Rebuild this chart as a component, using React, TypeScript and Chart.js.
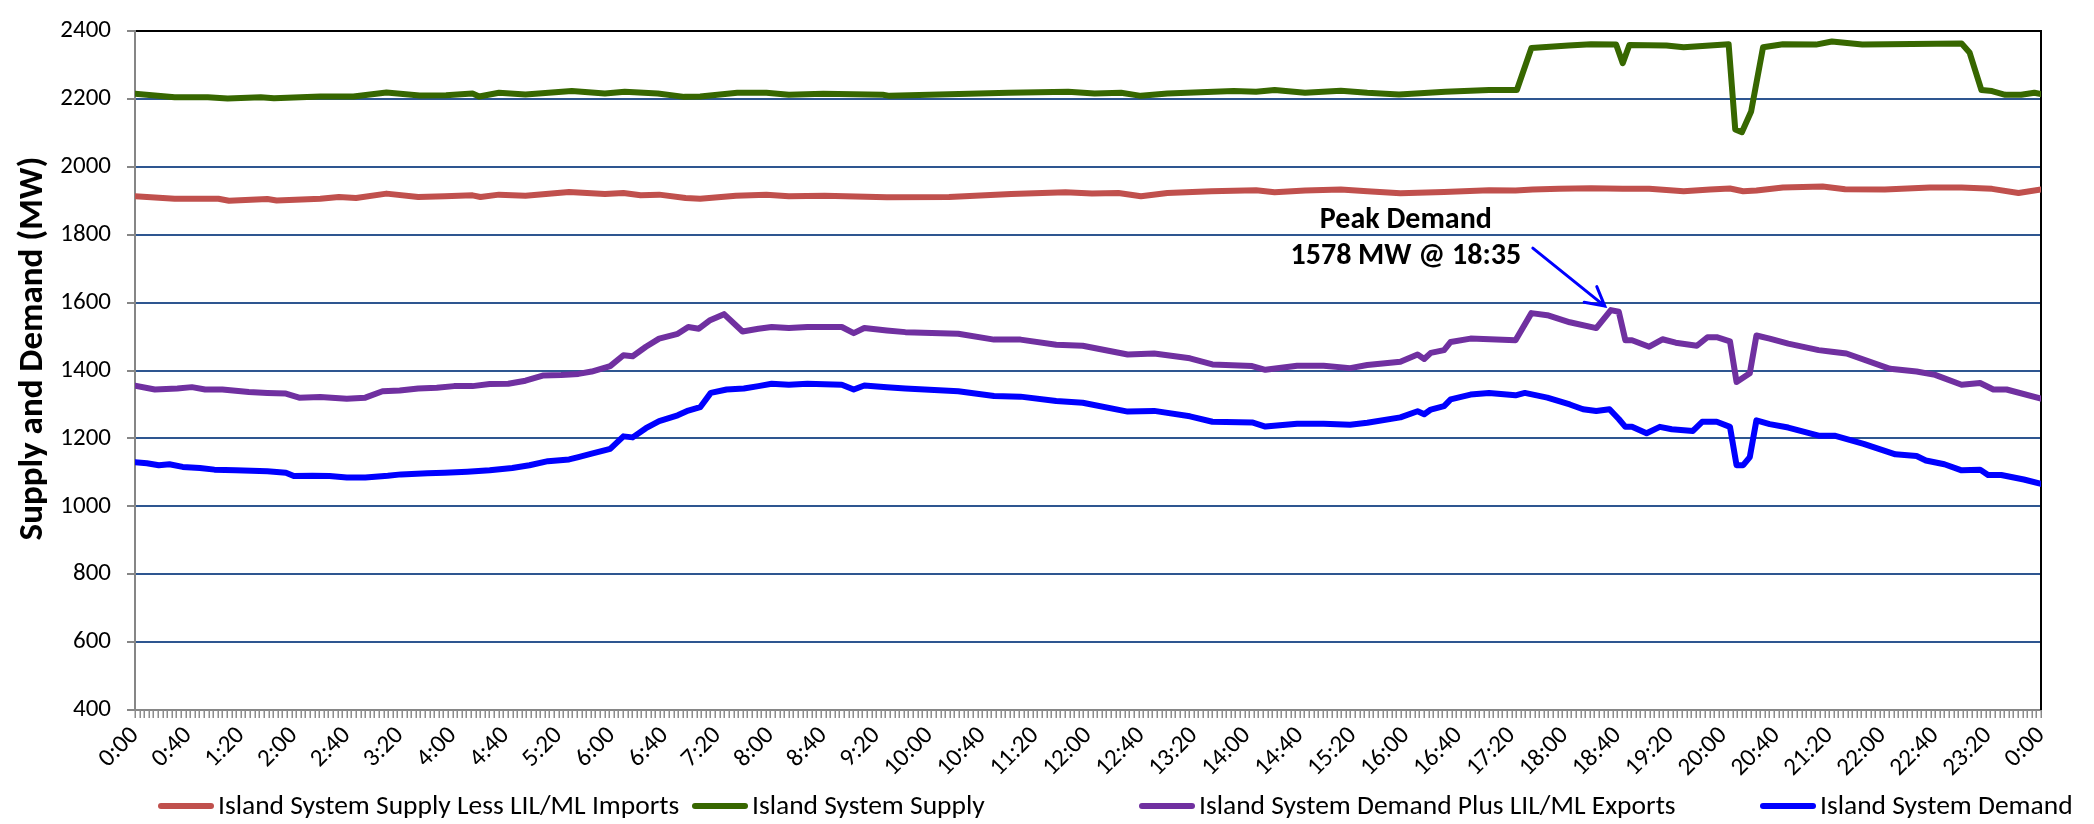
import React, { useEffect, useRef } from 'react';
import { Chart, registerables } from 'chart.js';

Chart.register(...registerables);

const FONT = 'Carlito, Calibri, Lato, sans-serif';

// x positions in minutes after midnight
const X_LABEL_MINUTES = [
  0, 40, 80, 120, 160, 200, 240, 280, 320, 360, 400, 440, 480, 520, 560, 600, 640, 680, 720,
  760, 800, 840, 880, 920, 960, 1000, 1040, 1080, 1120, 1160, 1200, 1240, 1280, 1320, 1360, 1400, 1440,
];

const RED_T = [0,30,63,71,100,107,140,154,167,190,214,234,255,261,275,295,328,355,369,382,396,416,427,454,477,494,521,568,615,662,703,723,743,760,780,813,847,861,884,911,931,956,989,1023,1043,1056,1076,1100,1124,1144,1170,1190,1205,1215,1225,1245,1275,1292,1322,1356,1380,1403,1423,1440];
const RED_V = [1913,1906,1906,1900,1905,1901,1906,1911,1908,1921,1911,1913,1916,1911,1918,1915,1926,1920,1923,1916,1918,1908,1906,1915,1918,1913,1915,1910,1911,1920,1925,1921,1923,1913,1923,1928,1931,1925,1930,1933,1928,1922,1926,1931,1930,1933,1935,1937,1935,1935,1928,1933,1936,1928,1930,1939,1942,1934,1933,1939,1939,1935,1923,1933];

const GREEN_T = [0,15,30,55,70,95,105,140,165,190,215,235,255,260,275,295,330,355,370,395,415,427,455,477,494,520,565,570,615,660,705,725,745,760,780,830,847,861,884,911,931,955,990,1023,1044,1055,1083,1100,1119,1124,1129,1157,1170,1204,1209,1214,1221,1230,1245,1270,1282,1305,1380,1386,1395,1403,1413,1425,1435,1440];
const GREEN_V = [2215,2210,2205,2205,2201,2205,2202,2207,2207,2219,2210,2211,2216,2207,2218,2213,2223,2216,2221,2216,2206,2207,2218,2218,2212,2215,2212,2209,2214,2218,2221,2216,2218,2209,2216,2223,2221,2226,2218,2224,2218,2213,2221,2226,2226,2350,2357,2361,2360,2305,2359,2357,2352,2361,2110,2102,2163,2352,2361,2360,2369,2360,2363,2337,2226,2223,2212,2212,2218,2214];

const PURPLE_T = [0,15,32,43,53,66,86,100,114,124,140,160,174,187,200,214,228,241,255,268,282,295,308,322,335,345,359,369,376,386,396,410,418,426,434,445,459,471,481,494,508,534,543,551,568,582,622,649,669,696,716,750,770,797,814,844,854,878,898,918,931,956,969,974,979,989,994,1009,1043,1055,1067,1084,1104,1115,1121,1126,1131,1144,1154,1164,1180,1188,1195,1205,1210,1220,1225,1235,1249,1272,1282,1293,1326,1346,1360,1380,1394,1404,1414,1440];
const PURPLE_V = [1355,1344,1347,1351,1344,1344,1337,1334,1332,1320,1322,1317,1320,1339,1341,1347,1349,1354,1354,1360,1361,1370,1385,1387,1390,1397,1413,1445,1442,1470,1494,1508,1528,1523,1547,1566,1515,1523,1528,1525,1528,1528,1510,1525,1518,1513,1508,1491,1491,1476,1473,1447,1450,1436,1418,1413,1402,1414,1414,1407,1416,1426,1447,1434,1452,1460,1484,1494,1489,1569,1563,1542,1525,1578,1573,1489,1489,1470,1492,1482,1473,1498,1498,1486,1366,1392,1503,1494,1479,1460,1455,1450,1405,1397,1387,1358,1363,1344,1344,1317];

const BLUE_T = [0,9,18,26,36,49,60,76,100,114,120,134,147,160,174,191,201,221,234,251,268,285,298,312,328,335,345,359,369,376,386,396,410,418,427,435,447,460,471,481,494,508,534,543,551,568,582,622,649,669,696,716,750,770,797,814,844,854,878,898,918,931,956,969,974,979,989,994,1009,1023,1043,1050,1067,1084,1094,1104,1114,1121,1126,1131,1142,1152,1161,1177,1184,1195,1205,1210,1215,1220,1225,1235,1249,1272,1284,1306,1330,1346,1353,1367,1380,1394,1400,1410,1427,1440];
const BLUE_V = [1130,1127,1121,1124,1116,1113,1108,1106,1103,1099,1089,1090,1089,1085,1085,1090,1094,1097,1099,1102,1106,1113,1121,1133,1138,1145,1155,1169,1206,1203,1230,1251,1268,1282,1292,1334,1344,1347,1354,1361,1358,1361,1358,1344,1356,1351,1347,1339,1325,1323,1310,1305,1279,1281,1265,1249,1247,1235,1243,1243,1240,1246,1262,1280,1271,1285,1295,1315,1329,1334,1327,1334,1320,1300,1286,1281,1286,1257,1234,1234,1215,1234,1227,1222,1249,1249,1234,1121,1121,1145,1253,1242,1232,1208,1208,1184,1153,1148,1135,1124,1106,1108,1092,1092,1079,1066];

const SERIES_LABELS = [
  'Island System Supply Less LIL/ML Imports',
  'Island System Supply',
  'Island System Demand Plus LIL/ML Exports',
  'Island System Demand',
];
const SERIES_COLORS = ['#C0504D', '#376700', '#7030A0', '#0000FF'];

const PEAK_MINUTE = 1115;
const PEAK_VALUE = 1578;
const PEAK_TITLE = 'Peak Demand';
const PEAK_TEXT = '1578 MW @ 18:35';

const Y_TITLE = 'Supply and Demand (MW)';

function fmtMinutes(m: number): string {
  const mm = ((Math.round(m) % 1440) + 1440) % 1440;
  const h = Math.floor(mm / 60);
  const mi = mm % 60;
  return `${h}:${mi.toString().padStart(2, '0')}`;
}

function pts(t: number[], v: number[]) {
  return t.map((x, i) => ({ x, y: v[i] }));
}

const MINOR_TICK_COUNT = 414;
const LEGEND_X = [158, 692, 1139, 1760];

const decorPlugin = {
  id: 'decor',
  beforeDatasetsDraw(chart: any) {
    const { ctx, chartArea: a } = chart;
    ctx.save();
    ctx.strokeStyle = '#000';
    ctx.lineWidth = 2;
    ctx.beginPath();
    ctx.moveTo(a.right, a.top - 1);
    ctx.lineTo(a.right, a.bottom);
    ctx.stroke();
    ctx.restore();
  },
  afterDraw(chart: any) {
    const { ctx, chartArea: a, scales } = chart;
    const xs = scales.x;
    const ys = scales.y;
    ctx.save();
    // minor tick marks along the category axis
    ctx.strokeStyle = '#8C8C8C';
    ctx.lineWidth = 1.5;
    ctx.beginPath();
    for (let i = 0; i <= MINOR_TICK_COUNT; i++) {
      const px = Math.round(a.left + ((a.right - a.left) * i) / MINOR_TICK_COUNT) + 0.25;
      ctx.moveTo(px, a.bottom);
      ctx.lineTo(px, a.bottom + 8);
    }
    ctx.stroke();

    // y-axis title
    ctx.save();
    ctx.translate(33, (a.top + a.bottom) / 2 - 22);
    ctx.rotate(-Math.PI / 2);
    ctx.font = `bold 35px ${FONT}`;
    ctx.fillStyle = '#000';
    ctx.textAlign = 'center';
    ctx.textBaseline = 'middle';
    ctx.fillText(Y_TITLE, 0, 0);
    ctx.restore();

    // legend
    const ds = chart.data.datasets;
    ctx.font = `27.5px ${FONT}`;
    ctx.textBaseline = 'middle';
    ctx.textAlign = 'left';
    const ly = 806;
    ds.forEach((d: any, i: number) => {
      const x0 = LEGEND_X[i];
      ctx.strokeStyle = d.borderColor;
      ctx.lineWidth = 6;
      ctx.lineCap = 'round';
      ctx.beginPath();
      ctx.moveTo(x0 + 3, ly);
      ctx.lineTo(x0 + 53, ly);
      ctx.stroke();
      ctx.fillStyle = '#000';
      ctx.fillText(d.label, x0 + 60, ly + 1);
    });

    // peak annotation
    const px = xs.getPixelForValue(PEAK_MINUTE);
    const py = ys.getPixelForValue(PEAK_VALUE);
    ctx.fillStyle = '#000';
    ctx.textAlign = 'center';
    ctx.textBaseline = 'alphabetic';
    ctx.font = `bold 30px ${FONT}`;
    ctx.fillText(PEAK_TITLE, px - 205, py - 82);
    ctx.fillText(PEAK_TEXT, px - 205, py - 46);

    const tipX = px - 6;
    const tipY = py - 4;
    const tailX = tipX - 72;
    const tailY = tipY - 58;
    ctx.strokeStyle = '#0000FF';
    ctx.lineWidth = 3;
    ctx.lineCap = 'round';
    ctx.beginPath();
    ctx.moveTo(tailX, tailY);
    ctx.lineTo(tipX, tipY);
    const ang = Math.atan2(tipY - tailY, tipX - tailX);
    const hl = 21;
    const spread = 0.5;
    ctx.moveTo(tipX - hl * Math.cos(ang - spread), tipY - hl * Math.sin(ang - spread));
    ctx.lineTo(tipX, tipY);
    ctx.lineTo(tipX - hl * Math.cos(ang + spread), tipY - hl * Math.sin(ang + spread));
    ctx.stroke();
    ctx.restore();
  },
};

export default function App() {
  const ref = useRef<HTMLCanvasElement | null>(null);

  useEffect(() => {
    if (!ref.current) return;
    const seriesT = [RED_T, GREEN_T, PURPLE_T, BLUE_T];
    const seriesV = [RED_V, GREEN_V, PURPLE_V, BLUE_V];
    const chart = new Chart(ref.current, {
      type: 'line',
      data: {
        datasets: SERIES_LABELS.map((label, i) => ({
          label,
          data: pts(seriesT[i], seriesV[i]),
          borderColor: SERIES_COLORS[i],
          backgroundColor: SERIES_COLORS[i],
          borderWidth: 6,
          pointRadius: 0,
          tension: 0,
          borderJoinStyle: 'round',
          borderCapStyle: 'round',
          fill: false,
        })),
      },
      options: {
        animation: false,
        responsive: false,
        maintainAspectRatio: false,
        layout: { padding: { top: 21, right: 53, bottom: 0, left: 0 } },
        plugins: {
          legend: { display: false },
          tooltip: { enabled: false },
        },
        scales: {
          x: {
            type: 'linear',
            min: 0,
            max: 1440,
            afterFit: (s: any) => {
              s.height = 114;
            },
            afterBuildTicks: (s: any) => {
              s.ticks = X_LABEL_MINUTES.map((v) => ({ value: v }));
            },
            ticks: {
              autoSkip: false,
              maxRotation: 45,
              minRotation: 45,
              color: '#000',
              padding: 2,
              font: { family: FONT, size: 25 },
              callback: (v: any) => fmtMinutes(Number(v)),
            },
            grid: {
              drawOnChartArea: false,
              tickLength: 9,
              tickColor: 'rgba(0,0,0,0)',
            },
            border: { color: '#868686', width: 2 },
          },
          y: {
            min: 400,
            max: 2400,
            afterFit: (s: any) => {
              s.width = 135;
            },
            ticks: {
              stepSize: 200,
              color: '#000',
              padding: 16,
              font: { family: FONT, size: 25 },
              callback: (v: any) => String(v),
            },
            grid: {
              color: (c: any) =>
                c.tick && c.tick.value === 2400
                  ? '#000000'
                  : c.tick && c.tick.value === 400
                  ? 'rgba(0,0,0,0)'
                  : '#2E5690',
              lineWidth: 2,
              tickLength: 8,
              tickColor: '#868686',
              tickWidth: 2,
            },
            border: { color: '#868686', width: 2 },
          },
        },
      } as any,
      plugins: [decorPlugin],
    });
    return () => chart.destroy();
  }, []);

  return (
    <div style={{ position: 'absolute', left: 0, top: 0, width: 2094, height: 824, background: '#fff' }}>
      <canvas ref={ref} width={2094} height={824} style={{ display: 'block' }} />
    </div>
  );
}
